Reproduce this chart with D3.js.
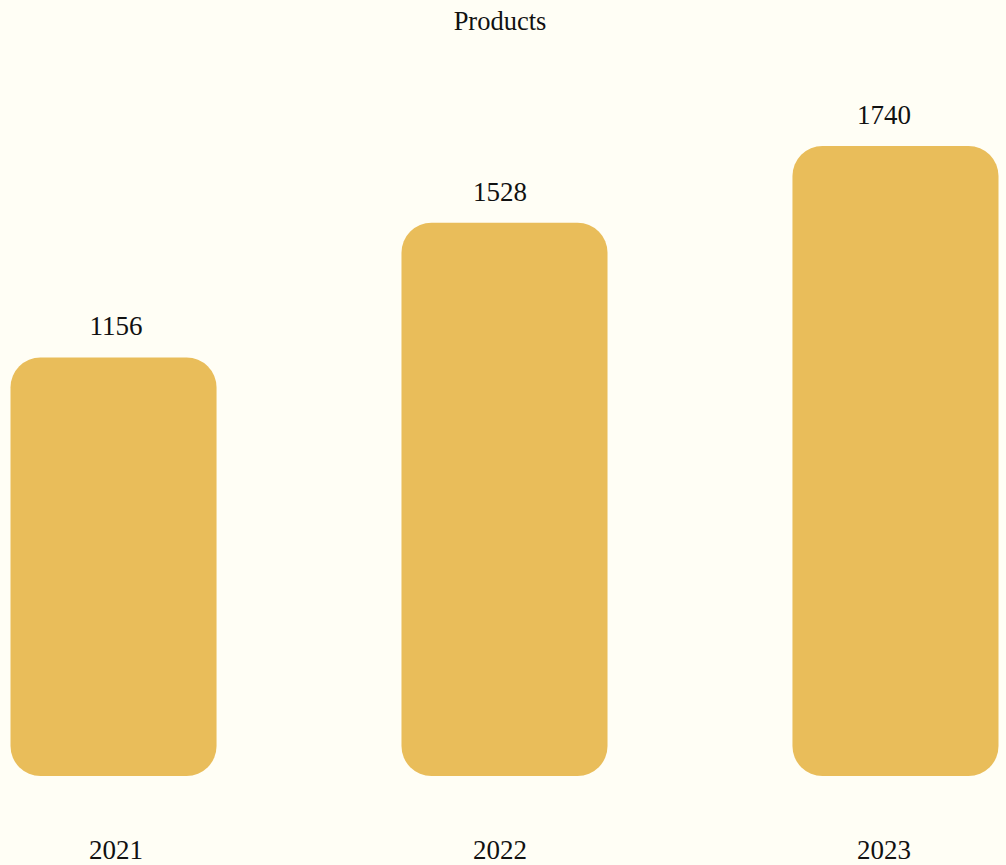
<!DOCTYPE html>
<html>
<head>
<meta charset="utf-8">
<script src="https://cdn.jsdelivr.net/npm/d3@7"></script>
<style>
  html, body { margin: 0; padding: 0; background: #fffef5; }
  svg { display: block; }
  text { font-family: "Liberation Serif", "Times New Roman", serif; fill: #111; }
</style>
</head>
<body>
<div id="chart"></div>
<script>
const title = "Products";
const categories = ["2021", "2022", "2023"];
const values = [1156, 1528, 1740];

const W = 1006, H = 865;
const svg = d3.select("#chart").append("svg").attr("width", W).attr("height", H);
svg.append("rect").attr("width", W).attr("height", H).attr("fill", "#fffef5");

const x = d3.scaleBand().domain(categories).range([10.5, 998.5]).paddingInner(0.473).paddingOuter(0);
const xLabel = d3.scalePoint().domain(categories).range([116, 884]);
const y = d3.scaleLinear().domain([0, d3.max(values)]).range([776, 146]);

const data = categories.map((c, i) => ({ c, v: values[i] }));

svg.selectAll("rect.bar").data(data).join("rect")
  .attr("class", "bar")
  .attr("x", d => x(d.c))
  .attr("y", d => y(d.v))
  .attr("width", x.bandwidth())
  .attr("height", d => y(0) - y(d.v))
  .attr("rx", 30).attr("ry", 30)
  .attr("fill", "#e9bd5a");

svg.selectAll("text.val").data(data).join("text")
  .attr("class", "val")
  .attr("x", d => xLabel(d.c))
  .attr("y", d => y(d.v) - 22)
  .attr("text-anchor", "middle")
  .attr("font-size", 27)
  .text(d => d.v);

svg.selectAll("text.cat").data(data).join("text")
  .attr("class", "cat")
  .attr("x", d => xLabel(d.c))
  .attr("y", 859)
  .attr("text-anchor", "middle")
  .attr("font-size", 27)
  .text(d => d.c);

svg.append("text")
  .attr("x", 500).attr("y", 30)
  .attr("text-anchor", "middle")
  .attr("font-size", 26.5)
  .text(title);
</script>
</body>
</html>
